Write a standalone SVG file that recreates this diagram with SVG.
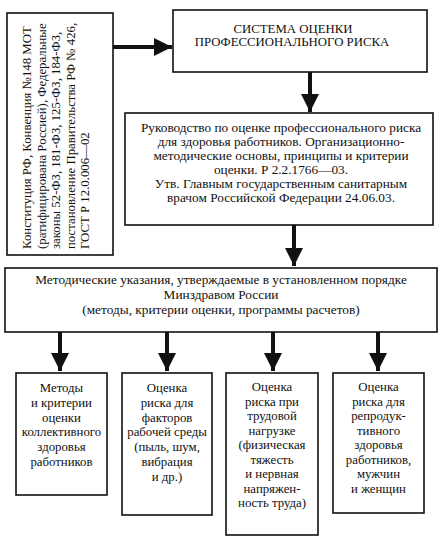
<svg xmlns="http://www.w3.org/2000/svg" width="439" height="538" viewBox="0 0 439 538">
<style>
.box{fill:#fff;stroke:#111;stroke-width:1.6}
.t{font-family:"Liberation Serif","Times New Roman",serif;font-size:13.3px;fill:#111;text-anchor:middle}
.s{font-size:12.8px}
.l{font-family:"Liberation Serif","Times New Roman",serif;font-size:12.8px;fill:#111}
.c{stroke:#111;stroke-width:4;fill:none}
</style>
<defs>
<marker id="ah" markerUnits="userSpaceOnUse" markerWidth="20" markerHeight="20" viewBox="0 0 20 20" refX="18" refY="10" orient="auto">
<polygon points="0,1 18,10 0,19" fill="#111"/>
</marker>
</defs>
<rect width="439" height="538" fill="#fff"/>
<g id="connectors">
<line class="c" x1="113" y1="47" x2="172" y2="47" marker-end="url(#ah)"/>
<line class="c" x1="310" y1="72" x2="310" y2="112" marker-end="url(#ah)"/>
<line class="c" x1="294" y1="225" x2="294" y2="266" marker-end="url(#ah)"/>
<line class="c" x1="60" y1="332" x2="60" y2="371" marker-end="url(#ah)"/>
<line class="c" x1="167" y1="332" x2="167" y2="371" marker-end="url(#ah)"/>
<line class="c" x1="273" y1="332" x2="273" y2="371" marker-end="url(#ah)"/>
<line class="c" x1="378" y1="332" x2="378" y2="371" marker-end="url(#ah)"/>
</g>
<g id="laws">
<rect class="box" x="7" y="13" width="106" height="242"/>
<text class="l" transform="translate(31,249) rotate(-90)">Конституция РФ, Конвенция №148 МОТ</text>
<text class="l" transform="translate(45.5,249) rotate(-90)">(ратифицирована Россией), Федеральные</text>
<text class="l" transform="translate(60,249) rotate(-90)">законы 52-ФЗ, 181-ФЗ, 125-ФЗ, 184-ФЗ,</text>
<text class="l" transform="translate(74.5,249) rotate(-90)">постановление Правительства РФ № 426,</text>
<text class="l" transform="translate(89,249) rotate(-90)">ГОСТ Р 12.0.006—02</text>
</g>
<g id="system">
<rect class="box" x="173" y="10" width="254" height="62"/>
<text class="t" x="293" y="33" style="font-size:12.8px">СИСТЕМА ОЦЕНКИ</text>
<text class="t" x="292" y="46" style="font-size:12.8px">ПРОФЕССИОНАЛЬНОГО РИСКА</text>
</g>
<g id="guide">
<rect class="box" x="125" y="113" width="308" height="112"/>
<text class="t" x="281" y="132">Руководство по оценке профессионального риска</text>
<text class="t" x="281" y="146">для здоровья работников. Организационно-</text>
<text class="t" x="281" y="160">методические основы, принципы и критерии</text>
<text class="t" x="281" y="174">оценки. Р 2.2.1766—03.</text>
<text class="t" x="281" y="188">Утв. Главным государственным санитарным</text>
<text class="t" x="281" y="202">врачом Российской Федерации 24.06.03.</text>
</g>
<g id="methodic">
<rect class="box" x="5" y="268" width="432" height="64"/>
<text class="t" x="221" y="284">Методические указания, утверждаемые в установленном порядке</text>
<text class="t" x="221" y="299">Минздравом России</text>
<text class="t" x="221" y="314">(методы, критерии оценки, программы расчетов)</text>
</g>
<g id="b1">
<rect class="box" x="16" y="373" width="91" height="122"/>
<text class="t s" x="61.5" y="392">Методы</text>
<text class="t s" x="61.5" y="406.8">и критерии</text>
<text class="t s" x="61.5" y="421.6">оценки</text>
<text class="t s" x="61.5" y="436.4">коллективного</text>
<text class="t s" x="61.5" y="451.2">здоровья</text>
<text class="t s" x="61.5" y="466">работников</text>
</g>
<g id="b2">
<rect class="box" x="122" y="373" width="90" height="142"/>
<text class="t s" x="167" y="392">Оценка</text>
<text class="t s" x="167" y="406.8">риска для</text>
<text class="t s" x="167" y="421.6">факторов</text>
<text class="t s" x="167" y="436.4">рабочей среды</text>
<text class="t s" x="167" y="451.2">(пыль, шум,</text>
<text class="t s" x="167" y="466">вибрация</text>
<text class="t s" x="167" y="480.8">и др.)</text>
</g>
<g id="b3">
<rect class="box" x="226" y="373" width="92" height="162"/>
<text class="t s" x="272" y="391">Оценка</text>
<text class="t s" x="272" y="405.5">риска при</text>
<text class="t s" x="272" y="420">трудовой</text>
<text class="t s" x="272" y="434.5">нагрузке</text>
<text class="t s" x="272" y="449">(физическая</text>
<text class="t s" x="272" y="463.5">тяжесть</text>
<text class="t s" x="272" y="478">и нервная</text>
<text class="t s" x="272" y="492.5">напряжен-</text>
<text class="t s" x="272" y="507">ность труда)</text>
</g>
<g id="b4">
<rect class="box" x="333" y="373" width="91" height="140"/>
<text class="t s" x="378.5" y="391">Оценка</text>
<text class="t s" x="378.5" y="405.5">риска для</text>
<text class="t s" x="378.5" y="420">репродук-</text>
<text class="t s" x="378.5" y="434.5">тивного</text>
<text class="t s" x="378.5" y="449">здоровья</text>
<text class="t s" x="378.5" y="463.5">работников,</text>
<text class="t s" x="378.5" y="478">мужчин</text>
<text class="t s" x="378.5" y="492.5">и женщин</text>
</g>
</svg>
